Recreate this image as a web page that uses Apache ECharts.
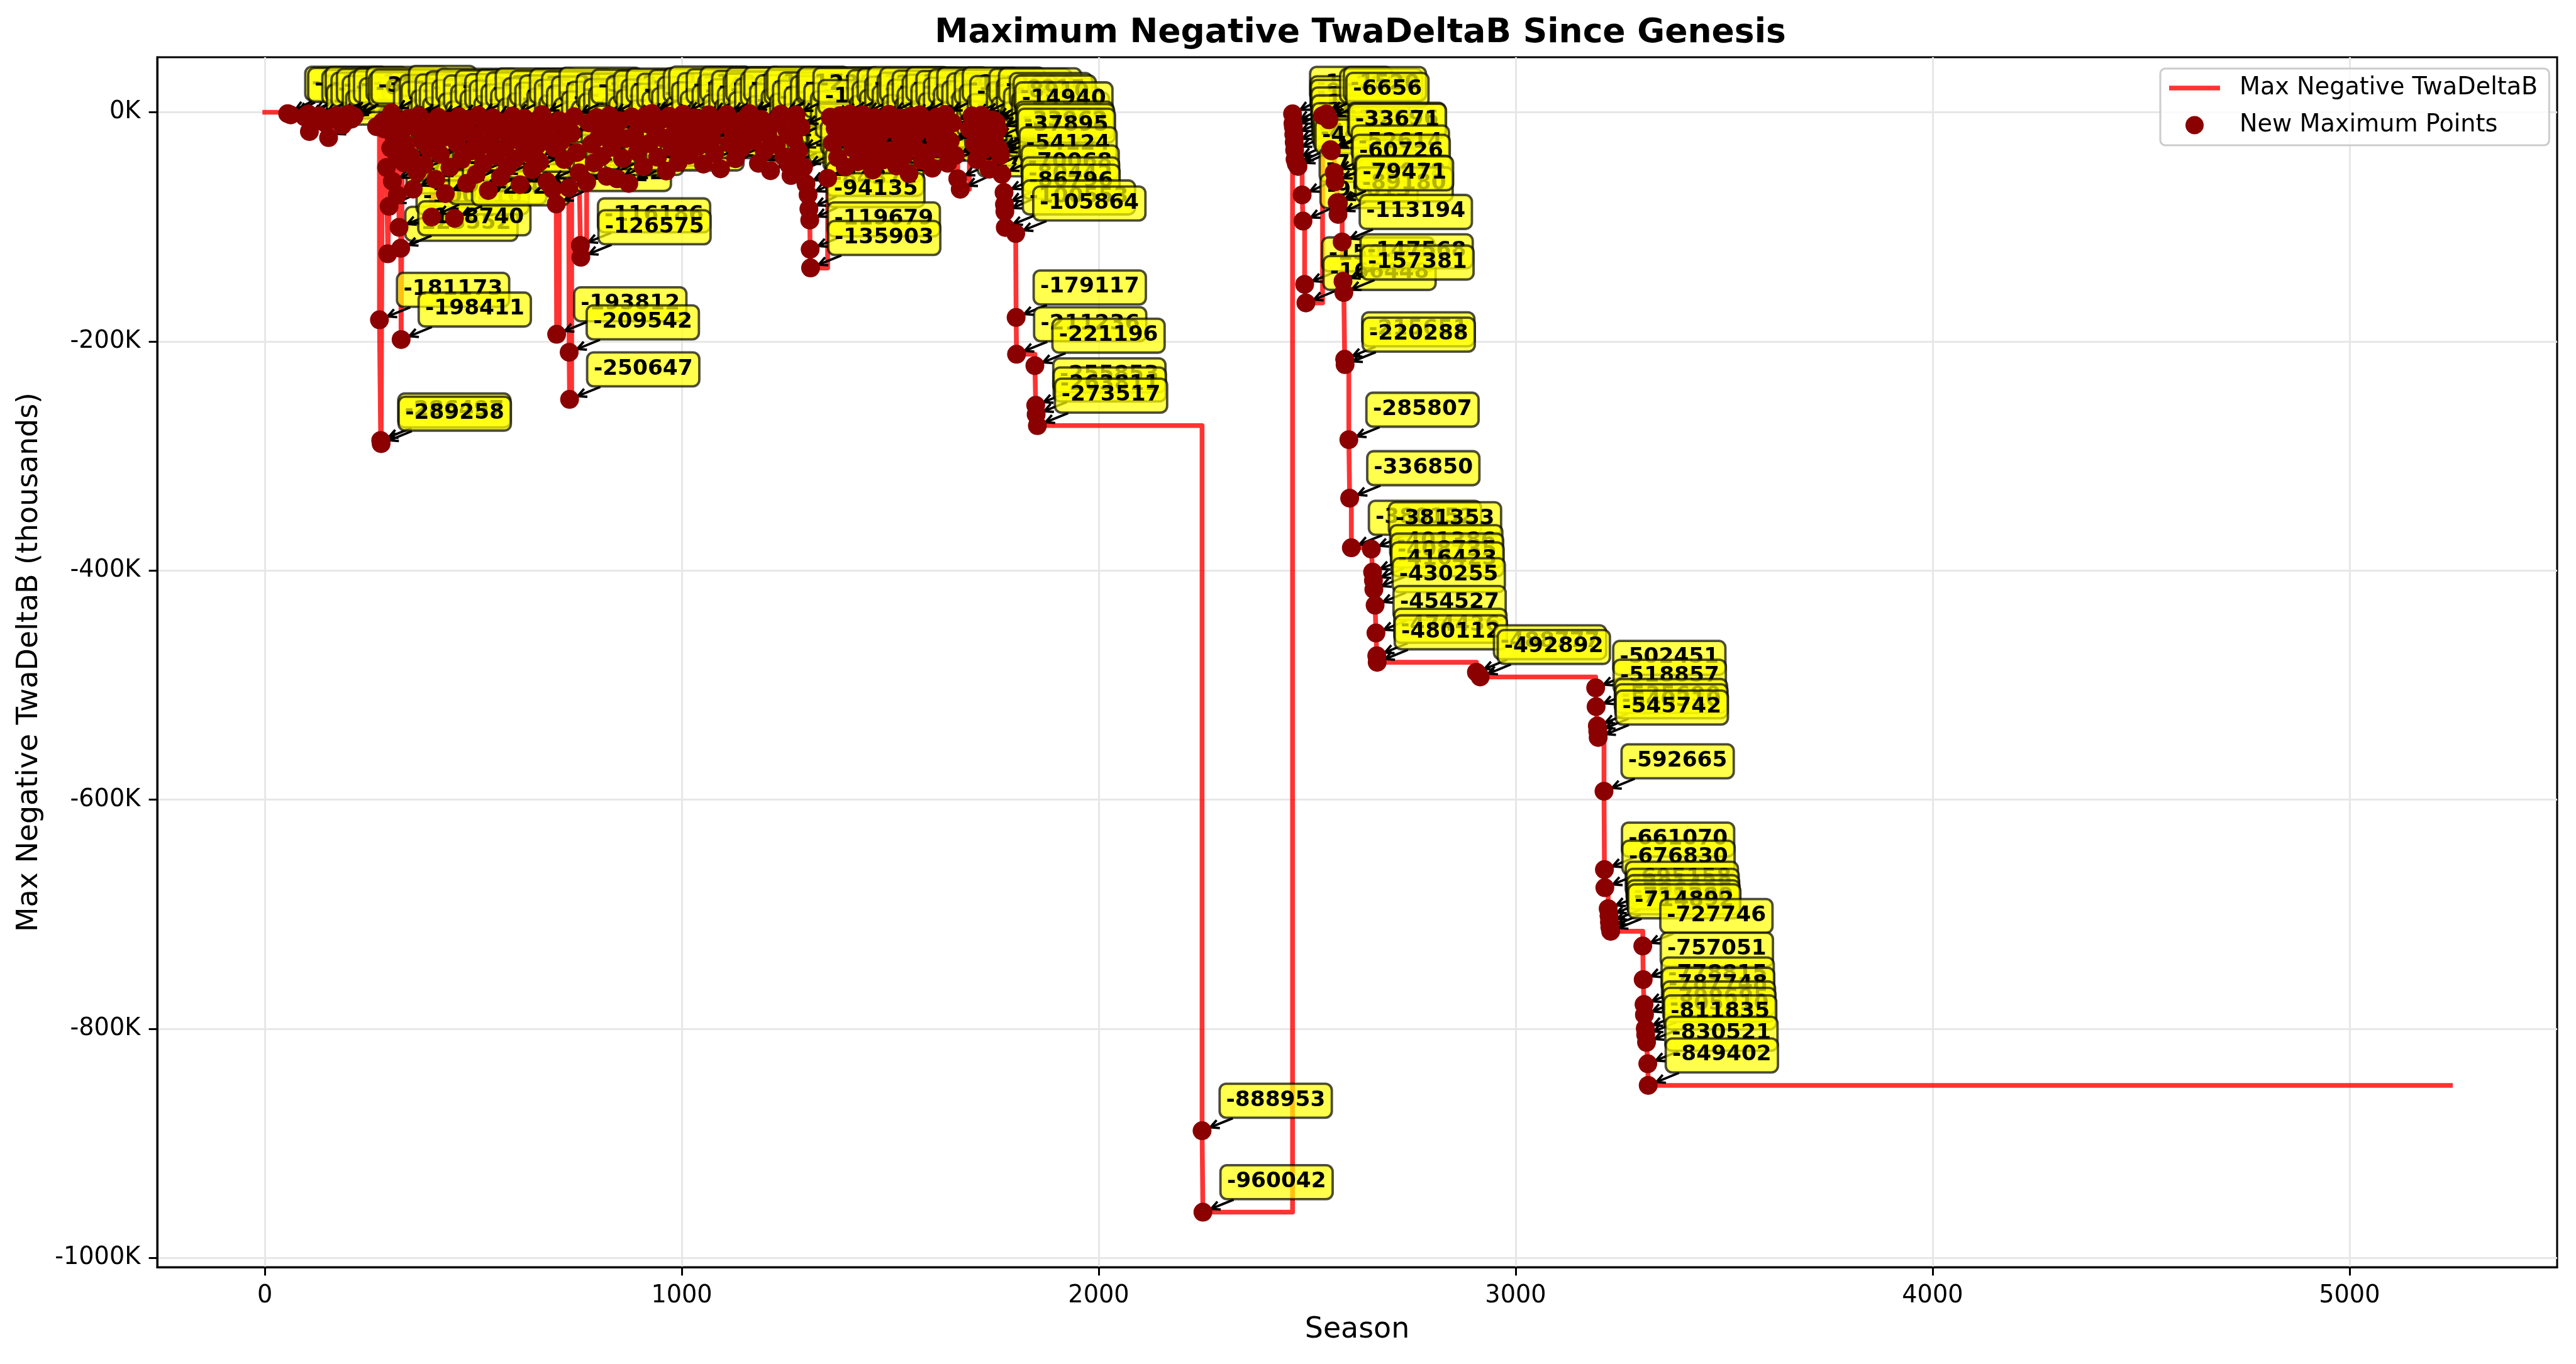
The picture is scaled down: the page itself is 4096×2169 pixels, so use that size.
<!DOCTYPE html>
<html><head><meta charset="utf-8">
<script src="https://cdn.jsdelivr.net/npm/echarts@6/dist/echarts.min.js"></script>
<style>html,body{margin:0;padding:0;background:#fff;}#chart{width:4096px;height:2169px;}</style>
</head><body><div id="chart"></div>
<script>
// ---------------- DATA ----------------
const seasonsA = [55, 62, 96, 104, 107, 118, 131, 145, 153, 160, 172, 186, 202, 208, 214, 268, 275, 278, 279, 282, 286, 292, 295, 298, 302, 304, 306, 310, 314, 318, 320, 322, 326, 327, 330, 334, 338];
const valuesA = [-1240, -2311, -4105, -1520, -16870, -6542, -3198, -9412, -22145, -5230, -2875, -11304, -1480, -6012, -3720, -12600, -181173, -286497, -289258, -8417, -14520, -48213, -123552, -82150, -31204, -588, -60214, -21870, -35120, -72330, -8035, -100416, -118740, -198411, -15602, -44275, -28190];

const seasonsB = [345, 350, 356, 360, 365, 370, 376, 382, 388, 393, 400, 405, 410, 416, 421, 428, 433, 439, 444, 450, 455, 461, 466, 472, 478, 484, 489, 495, 501, 507, 512, 518, 524, 530, 536, 541, 547, 553, 559, 565, 570, 576, 582, 588, 594, 600, 606, 612, 617, 623, 629, 635, 641, 647, 653, 659, 665, 671, 677, 683, 690, 695, 699, 700, 706, 712, 718, 724, 729, 730, 731, 736, 742, 748, 754, 757, 758, 772];
const valuesB = [-5321, -38455, -67120, -12874, -52310, -3115, -24690, -45875, -9012, -31567, -91534, -17240, -58620, -4432, -36790, -22118, -71045, -7725, -48330, -13390, -92620, -27450, -3890, -41205, -16740, -62115, -6305, -33840, -19870, -54210, -2740, -29165, -44980, -11235, -68342, -24510, -4870, -38120, -15305, -56740, -8890, -31045, -47712, -20314, -3362, -40918, -12707, -63280, -26633, -5418, -35490, -17820, -50125, -9840, -28760, -43305, -2105, -22930, -60718, -14486, -67035, -31270, -80112, -193812, -7365, -24815, -41320, -11980, -66010, -209542, -250647, -18445, -3810, -35270, -52890, -116186, -126575, -61140];

const seasonsC = [778, 784, 790, 796, 802, 808, 814, 820, 826, 832, 838, 845, 852, 858, 864, 873, 880, 887, 894, 901, 908, 915, 922, 928, 935, 942, 949, 956, 963, 970, 977, 984, 991, 998, 1003, 1010, 1017, 1024, 1031, 1038, 1045, 1052, 1059, 1065, 1072, 1079, 1086, 1093, 1100, 1108, 1115, 1122, 1129, 1136, 1143, 1150, 1157, 1163, 1170, 1177, 1184, 1191, 1198, 1205, 1213, 1220, 1227, 1234, 1238, 1245, 1252, 1258, 1262, 1268, 1274, 1280, 1286, 1292, 1298, 1303, 1305, 1307, 1308, 1309];
const valuesC = [-9320, -27705, -44160, -4655, -21340, -38715, -12405, -55980, -2930, -30615, -16250, -58120, -7480, -40390, -23115, -62131, -4120, -19985, -34620, -10275, -47650, -2560, -27380, -1145, -14830, -39170, -6920, -22650, -51320, -3475, -30880, -17240, -43915, -8130, -1640, -25710, -37420, -12215, -4985, -29860, -18530, -45260, -7260, -2215, -23580, -35945, -11650, -49380, -5570, -1890, -27140, -16305, -40585, -8675, -31470, -20890, -3960, -1325, -24930, -13480, -44620, -6240, -34155, -18770, -51045, -9585, -28410, -3375, -1705, -38890, -15640, -46310, -55245, -22790, -2380, -33610, -12940, -48115, -62480, -72018, -84370, -94135, -119679, -135903];

const seasonsD = [1350, 1356, 1362, 1368, 1374, 1380, 1386, 1392, 1398, 1404, 1410, 1416, 1422, 1428, 1434, 1440, 1446, 1452, 1458, 1464, 1470, 1476, 1482, 1488, 1497, 1503, 1509, 1515, 1521, 1527, 1533, 1539, 1545, 1551, 1557, 1563, 1571, 1577, 1583, 1589, 1595, 1601, 1607, 1613, 1619, 1625, 1632, 1638, 1644, 1650, 1656, 1662, 1668, 1690, 1696, 1702, 1708, 1714, 1719, 1725, 1731, 1737, 1745, 1750, 1754, 1758, 1760, 1762, 1764, 1768, 1773, 1774, 1775, 1776, 1801, 1802, 1803, 1847, 1849, 1850, 1853];
const valuesD = [-57610, -4290, -26715, -14185, -39605, -2845, -21570, -47830, -9960, -1540, -31285, -17690, -43210, -6480, -2075, -25930, -36640, -12560, -50470, -4740, -28315, -19125, -41780, -8265, -1830, -33490, -15250, -46905, -5110, -24470, -38060, -10840, -53620, -3570, -29745, -18360, -2260, -42110, -13925, -35380, -7015, -48870, -22455, -4025, -31860, -16670, -1985, -44550, -25160, -9350, -37715, -58020, -67245, -14690, -3240, -27880, -41350, -11170, -2690, -32815, -19540, -49760, -6815, -23610, -8910, -14940, -31779, -33962, -37895, -54124, -70068, -80442, -86796, -100553, -105864, -179117, -211236, -221196, -255853, -263811, -273517];

const seasonsE = [2248, 2250];
const valuesE = [-888953, -960042];

const seasonsF = [2465, 2466, 2467, 2468, 2469, 2470, 2471, 2474, 2478, 2488, 2490, 2494, 2497, 2537, 2546, 2552, 2556, 2558, 2565, 2567, 2572, 2574, 2575, 2584, 2586, 2588, 2590, 2591, 2600, 2602, 2606, 2654, 2657, 2659, 2660, 2663, 2665, 2667, 2668];
const valuesF = [-1405, -9623, -12843, -19410, -26318, -33127, -41209, -44865, -47356, -72180, -95013, -150236, -166448, -2987, -1520, -6656, -32696, -33671, -52614, -60726, -78918, -89180, -79471, -113194, -147568, -157381, -215651, -220288, -285807, -336850, -380152, -381353, -401386, -408735, -416423, -430255, -454527, -474436, -480112];

const seasonsG = [2906, 2915, 3192, 3193, 3196, 3197, 3198, 3212, 3213, 3214, 3222, 3224, 3225, 3226, 3228, 3305, 3306, 3308, 3309, 3311, 3312, 3314, 3317, 3318];
const valuesG = [-488777, -492892, -502451, -518857, -535690, -540310, -545742, -592665, -661070, -676830, -695158, -701420, -706935, -711380, -714892, -727746, -757051, -778815, -787748, -799695, -805210, -811835, -830521, -849402];

const lineStart = [0, 0];
const lineEnd = [5242, -849402];

const xTickValues = [0, 1000, 2000, 3000, 4000, 5000];
const yTickValues = [0, -200000, -400000, -600000, -800000, -1000000];

// ---------------- BUILD ----------------
const seasons = [].concat(seasonsA, seasonsB, seasonsC, seasonsD, seasonsE, seasonsF, seasonsG);
const values = [].concat(valuesA, valuesB, valuesC, valuesD, valuesE, valuesF, valuesG);
const points = seasons.map((s, i) => [s, values[i]]);
const lineData = [lineStart].concat(points, [lineEnd]);

const S = 0.917;
const PT = 300 / 72 * S;           // one point in px
const FONT = '"DejaVu Sans", "Liberation Sans", sans-serif';
const annFS = 9 * PT;
const annFont = 'bold ' + annFS.toFixed(2) + 'px "DejaVu Sans"';
const mctx = document.createElement('canvas').getContext('2d');
mctx.font = annFont;

function renderAnnotation(params, api) {
  const v = api.value(1);
  const p = api.coord([api.value(0), v]);
  const text = String(v);
  const tw = mctx.measureText(text).width;
  const off = 10 * PT;
  const pad = 0.3 * annFS;
  const tx = p[0] + off, baseY = p[1] - off;
  const bx = tx - pad, bw = tw + 2 * pad;
  const by = baseY - 0.76 * annFS - pad, bh = 0.97 * annFS + 2 * pad;
  const cx = bx + bw / 2, cy = by + bh / 2;
  const dx = p[0] - cx, dy = p[1] - cy;
  const len = Math.hypot(dx, dy);
  const ux = dx / len, uy = dy / len;
  const t = Math.min((bw / 2) / Math.abs(dx), (bh / 2) / Math.abs(dy));
  const sx = cx + dx * t + ux * 2, sy = cy + dy * t + uy * 2;
  const ex = p[0] - ux * 14, ey = p[1] - uy * 14;
  const L = 0.4 * annFS, W = 0.2 * annFS;
  const nx = -uy, ny = ux;
  const lw = 1.0 * PT;
  return {
    type: 'group',
    children: [
      { type: 'line', shape: { x1: sx, y1: sy, x2: ex, y2: ey }, style: { stroke: '#000', lineWidth: lw } },
      { type: 'polyline', shape: { points: [[ex - ux * L + nx * W, ey - uy * L + ny * W], [ex, ey], [ex - ux * L - nx * W, ey - uy * L - ny * W]] },
        style: { stroke: '#000', lineWidth: lw, fill: null } },
      { type: 'rect', shape: { x: bx, y: by, width: bw, height: bh, r: pad },
        style: { fill: 'rgba(255,255,0,0.7)', stroke: 'rgba(0,0,0,0.7)', lineWidth: lw } },
      { type: 'text', style: { text: text, x: tx, y: baseY - 0.297 * annFS, font: annFont, fill: '#000', align: 'left', verticalAlign: 'middle' } }
    ]
  };
}

const chart = echarts.init(document.getElementById('chart'), null, { renderer: 'canvas' });
const axisLineStyle = { color: '#000', width: 0.8 * PT };
const lineW = 2 * PT;
chart.setOption({
  animation: false,
  backgroundColor: '#fff',
  textStyle: { fontFamily: FONT },
  title: {
    text: 'Maximum Negative TwaDeltaB Since Genesis',
    left: 2158, top: 22, textAlign: 'center',
    textStyle: { fontSize: 14 * PT, fontWeight: 'bold', fontFamily: FONT, color: '#000' }
  },
  legend: {
    data: [
      { name: 'Max Negative TwaDeltaB', icon: 'path://M0,0L81,0L81,' + lineW.toFixed(1) + 'L0,' + lineW.toFixed(1) + 'Z',
        itemStyle: { color: 'rgba(255,0,0,0.8)' } },
      { name: 'New Maximum Points', icon: 'circle' }
    ],
    orient: 'vertical', left: 3435, top: 109,
    itemWidth: 81, itemHeight: 29, itemGap: 15,
    padding: [9, 18, 10, 14],
    backgroundColor: 'rgba(255,255,255,0.8)', borderColor: '#cccccc', borderWidth: 3, borderRadius: 8,
    selectedMode: false,
    textStyle: { fontSize: 10 * PT, fontFamily: FONT, color: '#000', lineHeight: 44, padding: [0, 0, 0, 26] }
  },
  grid: { left: 250, right: 30, top: 91, bottom: 154, show: true, borderColor: '#000', borderWidth: 0.8 * PT, backgroundColor: 'transparent' },
  xAxis: {
    type: 'value', min: -258, max: 5498,
    name: 'Season', nameLocation: 'middle', nameGap: 77,
    nameTextStyle: { fontSize: 12 * PT, fontFamily: FONT, color: '#000' },
    axisLine: { show: true, onZero: false, lineStyle: axisLineStyle },
    axisTick: { show: true, length: 3.5 * PT, lineStyle: axisLineStyle, customValues: xTickValues },
    axisLabel: { fontSize: 10 * PT, color: '#000', margin: 7 * PT, fontFamily: FONT, customValues: xTickValues,
      formatter: v => String(v) },
    splitLine: { show: true, lineStyle: { color: '#e7e7e7', width: 0.8 * PT } }
  },
  yAxis: {
    type: 'value', min: -1008044, max: 48002,
    name: 'Max Negative TwaDeltaB (thousands)', nameLocation: 'middle', nameGap: 180,
    nameTextStyle: { fontSize: 12 * PT, fontFamily: FONT, color: '#000' },
    axisLine: { show: true, onZero: false, lineStyle: axisLineStyle },
    axisTick: { show: true, length: 3.5 * PT, lineStyle: axisLineStyle, customValues: yTickValues },
    axisLabel: { fontSize: 10 * PT, color: '#000', margin: 7 * PT, fontFamily: FONT, customValues: yTickValues,
      formatter: v => Math.round(v / 1000) + 'K' },
    splitLine: { show: true, lineStyle: { color: '#e7e7e7', width: 0.8 * PT } }
  },
  series: [
    {
      name: 'Max Negative TwaDeltaB', type: 'line', data: lineData, step: 'end',
      showSymbol: false, symbol: 'none', z: 2, silent: true,
      lineStyle: { color: 'rgba(255,0,0,0.8)', width: lineW, join: 'round', cap: 'square' },
      itemStyle: { color: 'rgba(255,0,0,0.8)' }
    },
    {
      type: 'custom', data: points, encode: { x: 0, y: 1 }, z: 3, silent: true, clip: false,
      renderItem: renderAnnotation
    },
    {
      name: 'New Maximum Points', type: 'scatter', data: points, symbol: 'circle', symbolSize: 30,
      z: 4, silent: true, itemStyle: { color: '#8b0000', opacity: 1 }
    }
  ]
});
</script>
</body></html>
